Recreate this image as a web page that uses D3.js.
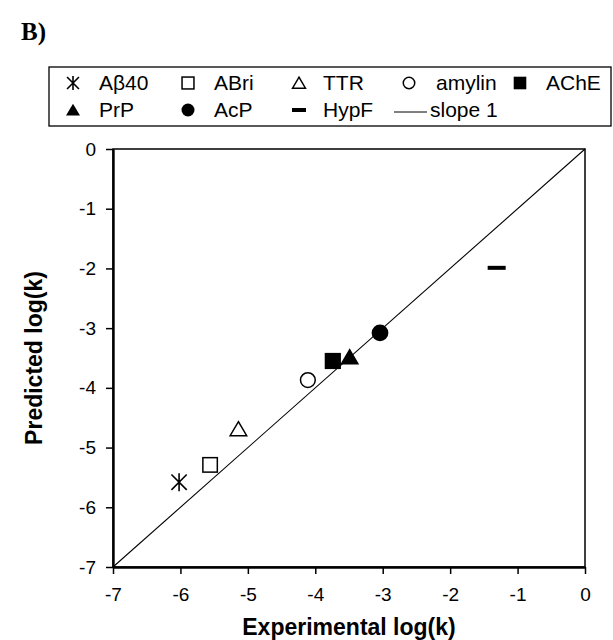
<!DOCTYPE html>
<html><head><meta charset="utf-8">
<script src="https://cdn.jsdelivr.net/npm/d3@7"></script>
<style>body{margin:0;background:#fff}svg{display:block}</style>
</head><body>
<script>
const proteins = ["Aβ40","ABri","TTR","amylin","AChE","PrP","AcP","HypF"];
const experimental = [-6.02,-5.56,-5.14,-4.11,-3.74,-3.49,-3.04,-1.31];
const predicted = [-5.58,-5.29,-4.69,-3.87,-3.55,-3.48,-3.08,-1.99];
const markers = ["asterisk","squareOpen","triangleOpen","circleOpen","squareFilled","triangleFilled","circleFilled","dash"];
const xTicks = [-7,-6,-5,-4,-3,-2,-1,0];
const yTicks = [0,-1,-2,-3,-4,-5,-6,-7];
const tickLabel = d => String(d); // hyphen-minus as in the original

const W=613,H=640;
const svg=d3.select("body").append("svg").attr("width",W).attr("height",H);
const L=113,R=585,T=149,B=567;
const x=d3.scaleLinear().domain([-7,0]).range([L,R]);
const y=d3.scaleLinear().domain([-7,0]).range([B,T]);
const SANS="Liberation Sans, Arial, sans-serif";

function drawMarker(g,type,s){
  const h=s/2;
  if(type==="asterisk"){
    g.append("path").attr("d",`M${-h*0.85},${-h*0.85}L${h*0.85},${h*0.85}M${-h*0.85},${h*0.85}L${h*0.85},${-h*0.85}M0,${-h}L0,${h}`)
      .attr("stroke","#000").attr("stroke-width",1.6).attr("fill","none");
  } else if(type==="squareOpen"){
    const q=h*0.85;
    g.append("rect").attr("x",-q).attr("y",-q).attr("width",2*q).attr("height",2*q)
      .attr("fill","#fff").attr("stroke","#000").attr("stroke-width",1.5);
  } else if(type==="squareFilled"){
    const q=h*0.9;
    g.append("rect").attr("x",-q).attr("y",-q).attr("width",2*q).attr("height",2*q).attr("fill","#000");
  } else if(type==="triangleOpen"){
    const a=h*0.92;
    g.append("path").attr("d",`M0,${-a*0.9}L${a},${a*0.8}L${-a},${a*0.8}Z`)
      .attr("fill","#fff").attr("stroke","#000").attr("stroke-width",1.5);
  } else if(type==="triangleFilled"){
    const a=h;
    g.append("path").attr("d",`M0,${-a*0.9}L${a},${a*0.8}L${-a},${a*0.8}Z`).attr("fill","#000");
  } else if(type==="circleOpen"){
    g.append("circle").attr("r",h*0.82).attr("fill","#fff").attr("stroke","#000").attr("stroke-width",1.5);
  } else if(type==="circleFilled"){
    g.append("circle").attr("r",h*0.93).attr("fill","#000");
  } else if(type==="dash"){
    g.append("rect").attr("x",-h).attr("y",-2).attr("width",2*h).attr("height",4).attr("fill","#000");
  }
}

// panel label
svg.append("text").attr("x",21).attr("y",40).attr("font-family","Liberation Serif, Times New Roman, serif")
  .attr("font-weight","bold").attr("font-size",25).text("B)");

// legend
const lg=svg.append("g");
lg.append("rect").attr("x",49).attr("y",67).attr("width",562).attr("height",59).attr("fill","#fff").attr("stroke","#000").attr("stroke-width",1.3);
const rowBase=[90,117];
const colSym=[73,188,299,409,520];
const colTxt=[99,214,323,436,546];
const legItems=[
  {i:0,c:0,row:0},{i:1,c:1,row:0},{i:2,c:2,row:0},{i:3,c:3,row:0},{i:4,c:4,row:0},
  {i:5,c:0,row:1},{i:6,c:1,row:1},{i:7,c:2,row:1}
];
legItems.forEach(d=>{
  const g=lg.append("g").attr("transform",`translate(${colSym[d.c]},${rowBase[d.row]-7})`);
  drawMarker(g,markers[d.i],14);
  lg.append("text").attr("x",colTxt[d.c]).attr("y",rowBase[d.row]).attr("font-family",SANS).attr("font-size",21).text(proteins[d.i]);
});
lg.append("line").attr("x1",394).attr("x2",427).attr("y1",rowBase[1]-5).attr("y2",rowBase[1]-5).attr("stroke","#000").attr("stroke-width",1);
lg.append("text").attr("x",430).attr("y",rowBase[1]).attr("font-family",SANS).attr("font-size",21).text("slope 1");

// frame
svg.append("rect").attr("x",L).attr("y",T).attr("width",R-L).attr("height",B-T).attr("fill","none").attr("stroke","#000").attr("stroke-width",1.5);

// axes
const xa=svg.append("g").attr("transform",`translate(0,${B})`)
  .call(d3.axisBottom(x).tickValues(xTicks).tickSize(7).tickPadding(14).tickSizeOuter(0).tickFormat(tickLabel));
const ya=svg.append("g").attr("transform",`translate(${L},0)`)
  .call(d3.axisLeft(y).tickValues(yTicks).tickSize(7).tickPadding(10).tickSizeOuter(0).tickFormat(tickLabel));
[xa,ya].forEach(a=>{
  a.select(".domain").attr("stroke-width",2.4);
  a.selectAll(".tick line").attr("stroke-width",1.5);
  a.selectAll("text").attr("font-family",SANS).attr("font-size",19).attr("fill","#000");
});

// slope line
svg.append("line").attr("x1",x(-7)).attr("y1",y(-7)).attr("x2",x(0)).attr("y2",y(0)).attr("stroke","#000").attr("stroke-width",1.1);

// points
const sizes={asterisk:18,squareOpen:17,triangleOpen:18,circleOpen:18,squareFilled:18,triangleFilled:19,circleFilled:18,dash:18};
experimental.forEach((v,i)=>{
  const g=svg.append("g").attr("transform",`translate(${x(v)},${y(predicted[i])})`);
  drawMarker(g,markers[i],sizes[markers[i]]);
});

// titles
svg.append("text").attr("x",(L+R)/2).attr("y",635).attr("text-anchor","middle").attr("font-family",SANS)
  .attr("font-weight","bold").attr("font-size",23).text("Experimental log(k)");
svg.append("text").attr("transform",`translate(42,${(T+B)/2}) rotate(-90)`).attr("text-anchor","middle").attr("font-family",SANS)
  .attr("font-weight","bold").attr("font-size",23).text("Predicted log(k)");
</script>
</body></html>
